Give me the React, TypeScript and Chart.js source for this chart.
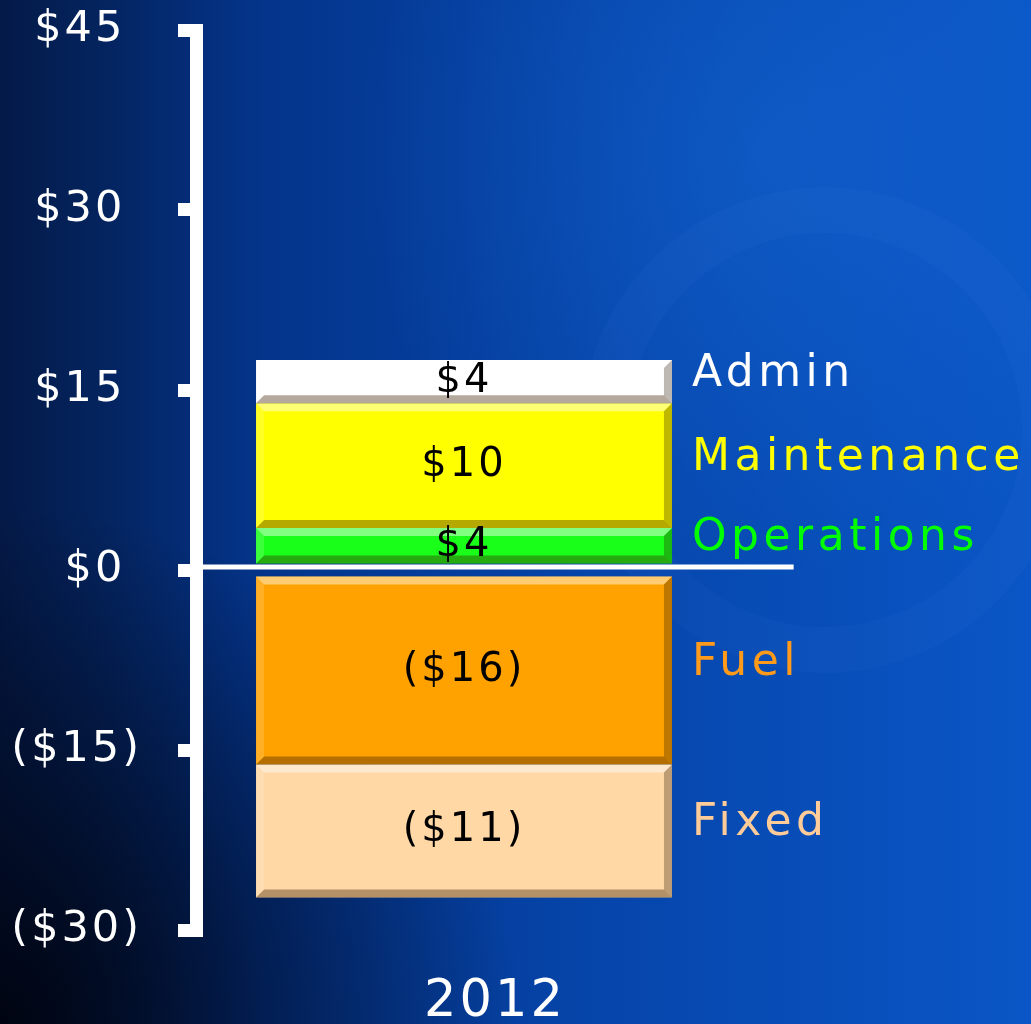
import { useEffect, useRef } from "react";
import { Chart, registerables } from "chart.js";

Chart.register(...registerables);

// ---- data ----
const categories = ["2012"];
const seriesNames = ["Operations", "Maintenance", "Admin", "Fuel", "Fixed"];
const operationsValues = [3.5];
const maintenanceValues = [10.4];
const adminValues = [3.6];
const fuelValues = [-16.2];
const fixedValues = [-11.1];
const yTickValues = [-30, -15, 0, 15, 30, 45];

const seriesValues = [operationsValues, maintenanceValues, adminValues, fuelValues, fixedValues];
const fillColors = ["#1AFF1A", "#FFFF00", "#FFFFFF", "#FFA200", "#FFD8A6"];
const nameColors = ["#00FF00", "#FFFF00", "#FFFFFF", "#FF9A1A", "#FFCC99"];

const FONT = "'DejaVu Sans', Verdana, sans-serif";

function money(v: number): string {
  const r = Math.round(Math.abs(v));
  return v < 0 ? `($${r})` : `$${r}`;
}

const backgroundPlugin = {
  id: "bg",
  beforeDraw(chart: any) {
    const { ctx, width, height } = chart;
    ctx.save();
    const g = ctx.createLinearGradient(0, 0, width, 0);
    g.addColorStop(0, "#041a48");
    g.addColorStop(0.1, "#04245f");
    g.addColorStop(0.25, "#04348a");
    g.addColorStop(0.6, "#0646ac");
    g.addColorStop(1, "#0a56c6");
    ctx.fillStyle = g;
    ctx.fillRect(0, 0, width, height);

    const dark = ctx.createRadialGradient(0, height, 0, 0, height, 520);
    dark.addColorStop(0, "rgba(0,2,12,0.9)");
    dark.addColorStop(1, "rgba(0,2,12,0)");
    ctx.fillStyle = dark;
    ctx.fillRect(0, 0, width, height);

    const light = ctx.createRadialGradient(width * 0.75, height * 0.15, 0, width * 0.75, height * 0.15, 420);
    light.addColorStop(0, "rgba(30,120,230,0.3)");
    light.addColorStop(1, "rgba(30,120,230,0)");
    ctx.fillStyle = light;
    ctx.fillRect(0, 0, width, height);

    // faint swirl
    ctx.strokeStyle = "rgba(110,170,255,0.045)";
    ctx.lineWidth = 46;
    ctx.beginPath();
    ctx.arc(width * 0.8, height * 0.42, 220, 0, Math.PI * 2);
    ctx.stroke();
    ctx.restore();

    // letter spacing for texts drawn by the chart afterwards
    ctx.letterSpacing = "3px";
  },
};

const bevelPlugin = {
  id: "bevel",
  afterDatasetsDraw(chart: any) {
    const { ctx } = chart;
    const b = 8;
    chart.data.datasets.forEach((_ds: any, di: number) => {
      const meta = chart.getDatasetMeta(di);
      meta.data.forEach((el: any) => {
        const p = el.getProps(["x", "y", "base", "width"], true);
        const l = p.x - p.width / 2;
        const r = p.x + p.width / 2;
        const t = Math.min(p.y, p.base);
        const bo = Math.max(p.y, p.base);
        ctx.save();
        const poly = (pts: number[][], c: string) => {
          ctx.beginPath();
          ctx.moveTo(pts[0][0], pts[0][1]);
          for (let i = 1; i < pts.length; i++) ctx.lineTo(pts[i][0], pts[i][1]);
          ctx.closePath();
          ctx.fillStyle = c;
          ctx.fill();
        };
        poly([[l, t], [r, t], [r - b, t + b], [l + b, t + b]], "rgba(255,255,255,0.45)");
        poly([[l, bo], [r, bo], [r - b, bo - b], [l + b, bo - b]], "rgba(60,30,0,0.38)");
        poly([[l, t], [l + b, t + b], [l + b, bo - b], [l, bo]], "rgba(255,255,255,0.15)");
        poly([[r, t], [r - b, t + b], [r - b, bo - b], [r, bo]], "rgba(40,20,0,0.30)");
        ctx.restore();
      });
    });
  },
};

const labelPlugin = {
  id: "labels",
  afterDatasetsDraw(chart: any) {
    const { ctx } = chart;
    chart.data.datasets.forEach((ds: any, di: number) => {
      const meta = chart.getDatasetMeta(di);
      meta.data.forEach((el: any, i: number) => {
        const p = el.getProps(["x", "y", "base", "width"], true);
        const cy = (p.y + p.base) / 2;
        ctx.save();
        ctx.letterSpacing = "3px";
        ctx.font = `40px ${FONT}`;
        ctx.fillStyle = "#000000";
        ctx.textAlign = "center";
        ctx.textBaseline = "middle";
        ctx.fillText(money(ds.data[i]), p.x, cy);
        ctx.letterSpacing = "4.5px";
        ctx.font = `44px ${FONT}`;
        ctx.fillStyle = nameColors[di];
        ctx.textAlign = "left";
        ctx.fillText(ds.label, p.x + p.width / 2 + 20, cy - 7);
        ctx.restore();
      });
    });
  },
};

const zeroLinePlugin = {
  id: "zeroLine",
  afterDraw(chart: any) {
    const { ctx, chartArea } = chart;
    const y0 = chart.scales.y.getPixelForValue(0);
    ctx.save();
    ctx.strokeStyle = "#FFFFFF";
    ctx.lineWidth = 5;
    ctx.beginPath();
    ctx.moveTo(chartArea.left, y0 - 3);
    ctx.lineTo(chartArea.left + (chartArea.right - chartArea.left) * 1.115, y0 - 3);
    ctx.stroke();
    ctx.restore();
  },
};

export default function App() {
  const ref = useRef<HTMLCanvasElement | null>(null);
  useEffect(() => {
    document.body.style.margin = "0";
    const canvas = ref.current;
    if (!canvas) return;
    const chart = new Chart(canvas, {
      type: "bar",
      data: {
        labels: categories,
        datasets: seriesNames.map((name, i) => ({
          label: name,
          data: seriesValues[i],
          backgroundColor: fillColors[i],
          borderWidth: 0,
          categoryPercentage: 1,
          barPercentage: 0.776,
        })),
      },
      options: {
        animation: false,
        responsive: false,
        devicePixelRatio: 1,
        layout: { padding: { left: 0, right: 299, top: 30, bottom: 0 } },
        plugins: {
          legend: { display: false },
          tooltip: { enabled: false },
          title: { display: false },
        },
        scales: {
          x: {
            stacked: true,
            grid: { display: false },
            border: { display: false },
            ticks: {
              color: "#FFFFFF",
              font: { family: FONT, size: 51 },
              labelOffset: 31,
              padding: 34,
            },
            afterFit: (scale: any) => {
              scale.height = 94;
            },
          },
          y: {
            stacked: true,
            min: -30,
            max: 45,
            afterBuildTicks: (scale: any) => {
              scale.ticks = yTickValues.map((v) => ({ value: v }));
            },
            grid: {
              display: true,
              drawOnChartArea: false,
              drawTicks: true,
              tickLength: 18,
              tickWidth: 13,
              tickColor: "#FFFFFF",
              lineWidth: 13,
              color: "#FFFFFF",
            },
            border: { display: true, color: "#FFFFFF", width: 13 },
            ticks: {
              color: "#FFFFFF",
              font: { family: FONT, size: 43 },
              padding: 36,
              callback: (v: any) => (Number(v) < 0 ? money(Number(v)) : money(Number(v)) + " "),
            },
            afterFit: (scale: any) => {
              scale.width = 196;
              scale.paddingTop = 0;
              scale.paddingBottom = 0;
            },
          },
        },
      },
      plugins: [backgroundPlugin, bevelPlugin, labelPlugin, zeroLinePlugin],
    });
    return () => chart.destroy();
  }, []);
  return <canvas ref={ref} width={1031} height={1024} style={{ display: "block" }} />;
}
